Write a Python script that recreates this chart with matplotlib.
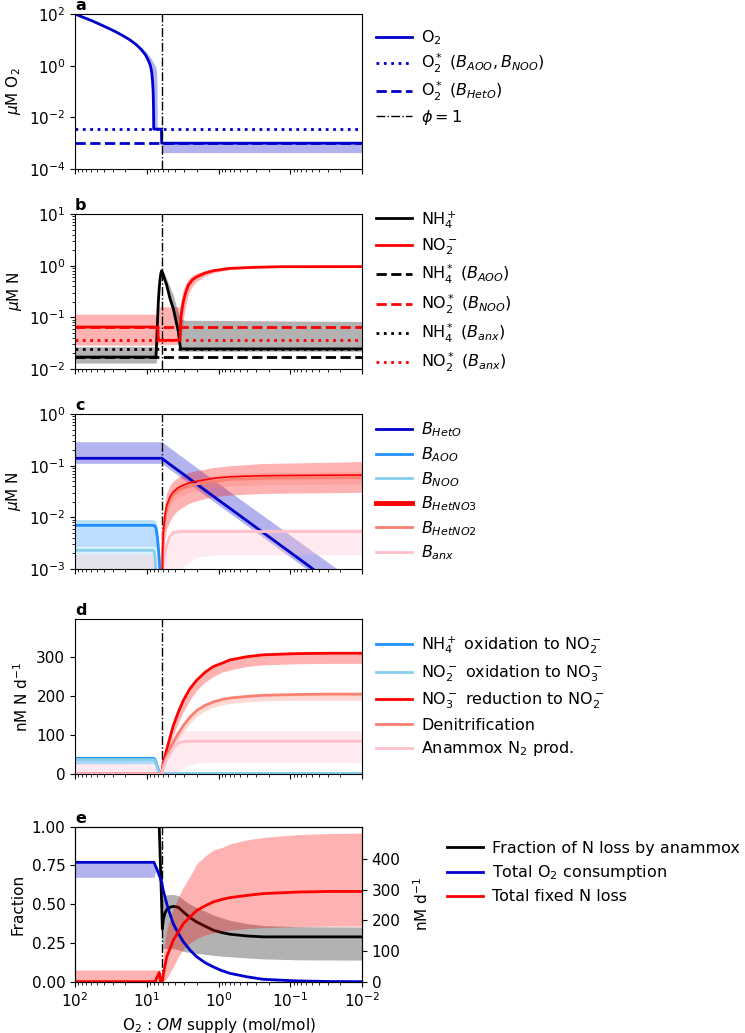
import matplotlib
matplotlib.use("Agg")
import matplotlib.pyplot as plt

plt.rcParams["font.size"] = 11
plt.rcParams["mathtext.fontset"] = "dejavusans"

# ----------------------------
# DATA
# ----------------------------
phi1 = 6.2  # O2:OM supply where phi = 1

# panel a: O2
x_o2 = [100, 80, 60, 45, 35, 27, 21, 17, 14, 12, 10.5, 9.5, 9.0, 8.7, 8.5, 8.3, 8.15, 8.05, 8.0,
        7.8, 7.5, 7.3, 7.2, 7.15, 6.25, 6.2, 0.01]
o2 = [100, 78, 57, 40, 29, 20.5, 14, 9.8, 6.5, 4.3, 2.7, 1.6, 1.1, 0.75, 0.5, 0.25, 0.1, 0.02, 0.0035,
      0.0035, 0.0035, 0.0035, 0.0035, 0.0035, 0.0035, 0.001, 0.001]
o2_lo = [100, 78, 57, 40, 29, 20.5, 14, 9.8, 6.5, 4.3, 2.7, 1.6, 1.1, 0.75, 0.5, 0.25, 0.1, 0.02, 0.0035,
         0.0035, 0.0035, 0.0035, 0.0035, 0.0035, 0.0035, 0.00043, 0.00043]
o2_hi = [100, 78, 57, 40, 29.5, 21.5, 15, 10.8, 7.5, 5.3, 3.7, 2.7, 2.2, 1.9, 1.7, 1.5, 1.4, 1.3, 1.25,
         1.1, 0.9, 0.6, 0.15, 0.0035, 0.0035, 0.001, 0.001]
o2_star_nit = 0.0035
o2_star_het = 0.001

# panel b: NH4+ and NO2-
x_nh4 = [100, 7.45, 7.3, 7.1, 6.9, 6.7, 6.5, 6.35, 6.2, 6.0, 5.7, 5.27, 4.74, 4.27, 3.9, 3.63, 3.45, 3.37, 3.0, 0.01]
nh4 = [0.017, 0.017, 0.03, 0.08, 0.2, 0.38, 0.58, 0.72, 0.8, 0.72, 0.58, 0.42, 0.23, 0.15, 0.083, 0.053, 0.03,
       0.0245, 0.0245, 0.0245]
nh4_lo = [0.013, 0.013, 0.015, 0.04, 0.12, 0.28, 0.45, 0.6, 0.7, 0.62, 0.48, 0.34, 0.18, 0.11, 0.06, 0.035, 0.022,
          0.022, 0.022, 0.022]
nh4_hi = [0.027, 0.027, 0.045, 0.12, 0.3, 0.5, 0.7, 0.8, 0.85, 0.82, 0.72, 0.55, 0.38, 0.27, 0.17, 0.12, 0.1,
          0.095, 0.088, 0.083]
x_no2 = [100, 7.0, 6.9, 3.45, 3.35, 3.26, 3.1, 2.86, 2.63, 2.32, 2.01, 1.54, 1.18, 0.69, 0.31, 0.14, 0.01]
no2 = [0.065, 0.065, 0.036, 0.036, 0.096, 0.129, 0.2, 0.305, 0.42, 0.53, 0.61, 0.72, 0.8, 0.89, 0.93, 0.955, 0.96]
no2_lo = [0.029, 0.029, 0.03, 0.03, 0.035, 0.05, 0.09, 0.17, 0.28, 0.4, 0.5, 0.63, 0.73, 0.84, 0.9, 0.93, 0.94]
no2_hi = [0.115, 0.115, 0.16, 0.16, 0.2, 0.25, 0.35, 0.45, 0.55, 0.65, 0.72, 0.8, 0.86, 0.93, 0.97, 0.99, 1.0]
nh4_star_aoo = 0.017
no2_star_noo = 0.065
nh4_star_anx = 0.024
no2_star_anx = 0.036

# panel c: biomasses
x_heto = [100, 6.2, 1.0, 0.1, 0.01]
b_heto = [0.139, 0.139, 0.0216, 0.0021, 0.0002]
b_heto_lo = [0.111, 0.111, 0.0173, 0.0017, 0.00017]
b_heto_hi = [0.29, 0.29, 0.045, 0.0045, 0.00045]
x_aoo = [100, 8.2, 7.7, 7.4, 7.1, 6.8, 6.5, 6.3, 0.01]
b_aoo = [0.007, 0.007, 0.0068, 0.006, 0.004, 0.002, 0.0008, 0.0001, 0.0001]
b_aoo_lo = [0.0028, 0.0028, 0.0027, 0.0024, 0.0016, 0.0008, 0.0003, 0.0001, 0.0001]
b_aoo_hi = [0.009, 0.009, 0.0088, 0.0082, 0.006, 0.0035, 0.0015, 0.0001, 0.0001]
x_noo = [100, 8.2, 7.9, 7.7, 7.5, 7.3, 7.0, 6.8, 0.01]
b_noo = [0.0023, 0.0023, 0.0022, 0.0017, 0.0011, 0.0006, 0.0002, 0.0001, 0.0001]
b_noo_lo = [0.0005, 0.0005, 0.0005, 0.0004, 0.0003, 0.0002, 0.0001, 0.0001, 0.0001]
b_noo_hi = [0.0029, 0.0029, 0.0029, 0.0026, 0.002, 0.0012, 0.0005, 0.0001, 0.0001]
x_het = [100, 6.2, 6.07, 6.0, 5.88, 5.57, 5.27, 4.74, 4.27, 3.63, 3.09, 2.5, 2.01, 1.18, 0.69, 0.237, 0.01]
b_hetno3 = [1e-4, 1e-4, 0.0008, 0.0025, 0.0053, 0.011, 0.017, 0.025, 0.031, 0.0375, 0.042, 0.047, 0.05, 0.057,
            0.061, 0.064, 0.066]
b_hetno3_lo = [1e-4, 1e-4, 0.0003, 0.001, 0.0018, 0.004, 0.006, 0.0085, 0.011, 0.014, 0.016, 0.019, 0.021, 0.025,
               0.027, 0.029, 0.0305]
b_hetno3_hi = [1e-4, 1e-4, 0.0015, 0.005, 0.011, 0.02, 0.03, 0.042, 0.05, 0.06, 0.068, 0.075, 0.08, 0.092, 0.1,
               0.11, 0.12]
b_hetno2 = [1e-4, 1e-4, 0.0007, 0.0022, 0.0048, 0.0098, 0.015, 0.022, 0.0275, 0.033, 0.037, 0.041, 0.044, 0.05,
            0.054, 0.057, 0.059]
b_hetno2_lo = [1e-4, 1e-4, 0.0005, 0.0017, 0.0036, 0.0074, 0.0113, 0.0165, 0.0206, 0.0248, 0.0278, 0.0308, 0.033,
               0.0375, 0.0405, 0.0428, 0.0443]
b_hetno2_hi = [1e-4, 1e-4, 0.0009, 0.0029, 0.0062, 0.0127, 0.0195, 0.0286, 0.0358, 0.0429, 0.0481, 0.0533, 0.0572,
               0.065, 0.0702, 0.0741, 0.0767]
x_anx = [100, 6.3, 6.2, 6.0, 5.6, 5.27, 4.8, 4.3, 3.8, 3.0, 2.0, 1.0, 0.01]
b_anx = [1e-4, 1e-4, 1e-4, 0.001, 0.002, 0.0029, 0.0042, 0.005, 0.0052, 0.0053, 0.0053, 0.0053, 0.0053]
b_anx_lo = [1e-4, 1e-4, 1e-4, 1e-4, 1e-4, 1e-4, 1e-4, 1e-4, 0.0006, 0.0012, 0.0017, 0.0019, 0.0019]
b_anx_hi = [0.0019, 0.0019, 0.0005, 0.0013, 0.0027, 0.0038, 0.0048, 0.0057, 0.006, 0.006, 0.006, 0.006, 0.006]

# panel d: rates (nM N/d)
x_nh4ox = [100, 8.0, 7.7, 7.4, 7.1, 6.8, 6.6, 0.01]
nh4ox = [40, 40, 38, 30, 18, 7, 0, 0]
nh4ox_lo = [27, 27, 25, 20, 12, 4, 0, 0]
no2ox = [37, 37, 35, 27, 15, 5, 0, 0]
no2ox_lo = [25, 25, 23, 18, 10, 3, 0, 0]
x_d = [100, 6.2, 5.88, 5.27, 4.74, 4.27, 3.63, 3.09, 2.5, 2.01, 1.54, 1.18, 0.9, 0.69, 0.405, 0.237, 0.081, 0.028, 0.01]
no3red = [0, 0, 29, 63, 94, 124, 159, 189, 219, 241, 261, 276, 284, 293, 301, 306, 309, 310, 310]
no3red_lo = [0, 0, 20, 45, 73, 101, 132, 160, 190, 215, 236, 250, 261, 267, 276, 280, 283, 284, 284]
denit = [0, 0, 22, 46, 64, 81, 104, 124, 146, 163, 176, 185, 191, 195, 199, 202, 204, 205, 205]
denit_lo = [0, 0, 15, 36, 54, 70, 90, 108, 130, 148, 162, 171, 177, 181, 185, 188, 189, 189, 189]
anammox = [0, 0, 15, 37, 52, 66, 79, 83, 84, 84, 84, 84, 84, 84, 84, 84, 84, 84, 84]
anammox_lo = [0, 0, 0, 0, 0, 0, 5, 15, 24, 28, 30, 30, 30, 30, 30, 30, 30, 30, 30]
anammox_hi = [27, 25, 45, 75, 95, 108, 111, 111, 111, 111, 111, 111, 111, 111, 111, 111, 111, 111, 111]

# panel e: fraction and totals
x_frac = [6.7, 6.4, 6.2, 6.07, 5.88, 5.6, 5.27, 4.74, 4.27, 3.63, 3.09, 2.5, 2.01, 1.54, 1.18, 0.9, 0.69, 0.405,
          0.237, 0.081, 0.01]
frac_amx = [1.0, 0.7, 0.5, 0.34, 0.4, 0.44, 0.465, 0.48, 0.486, 0.48, 0.45, 0.414, 0.385, 0.358, 0.332, 0.317,
            0.306, 0.295, 0.289, 0.289, 0.289]
frac_amx_lo = [1.0, 0.7, 0.5, 0.2, 0.215, 0.215, 0.214, 0.214, 0.214, 0.205, 0.195, 0.188, 0.182, 0.176, 0.17,
               0.165, 0.161, 0.153, 0.147, 0.141, 0.139]
frac_amx_hi = [1.0, 0.7, 0.5, 0.54, 0.55, 0.555, 0.56, 0.562, 0.563, 0.555, 0.53, 0.5, 0.478, 0.455, 0.43, 0.412,
               0.396, 0.375, 0.362, 0.355, 0.353]
x_o2cons = [100, 7.95, 7.26, 6.53, 6.2, 5.88, 5.27, 4.74, 4.27, 3.63, 3.09, 2.5, 2.01, 1.54, 1.18, 0.9, 0.69,
            0.405, 0.237, 0.081, 0.028, 0.01]
o2cons = [389, 389, 368, 340, 324, 297, 254, 220, 189, 157, 130, 103, 81, 62, 48, 36, 27, 16, 7.6, 2.5, 0.5, 0]
o2cons_lo = [340, 340, 368, 340, 324, 297, 254, 220, 189, 157, 130, 103, 81, 62, 48, 36, 27, 16, 7.6, 2.5, 0.5, 0]
x_nloss = [100, 7.67, 6.68, 6.4, 6.05, 5.88, 5.27, 4.74, 4.27, 3.63, 3.09, 2.5, 2.01, 1.54, 1.18, 0.9, 0.69,
           0.405, 0.237, 0.081, 0.028, 0.01]
nloss = [0, 0, 30, 0, 0, 25, 81, 108, 135, 162, 189, 211, 232, 247, 260, 268, 274, 281, 287, 292, 294, 294]
nloss_lo = [0, 0, 0, 0, 0, 0, 10, 30, 48, 81, 106, 126, 141, 152, 159, 164, 168, 173, 176, 179, 181, 181]
nloss_hi = [38, 38, 38, 0, 0, 91, 168, 207, 238, 275, 308, 343, 384, 409, 429, 437, 449, 462, 470, 479, 483, 484]

# ----------------------------
# FIGURE
# ----------------------------
fig = plt.figure(figsize=(7.45, 10.33), dpi=100)
left, width = 0.1007, 0.3852
bottoms = [0.8364, 0.6428, 0.4492, 0.2508, 0.0497]
axes = []
for b in bottoms:
    ax = fig.add_axes([left, b, width, 0.1500], sharex=axes[0] if axes else None)
    axes.append(ax)
ax_a, ax_b, ax_c, ax_d, ax_e = axes

BLUE = "mediumblue"
AL = 0.3
LEG = dict(frameon=False, fontsize=11.5, handlelength=2.25, handletextpad=0.55)


def band(ax, x, lo, hi, color):
    ax.fill_between(x, lo, hi, color=color, alpha=AL, lw=0)


# ---- a ----
band(ax_a, x_o2, o2_lo, o2_hi, BLUE)
ax_a.plot(x_o2, o2, color=BLUE, lw=2, label=r"O$_2$")
ax_a.axhline(o2_star_nit, color=BLUE, lw=2, ls=":", label=r"O$_2^*$ ($B_{AOO}, B_{NOO}$)")
ax_a.axhline(o2_star_het, color=BLUE, lw=2, ls="--", label=r"O$_2^*$ ($B_{HetO}$)")
ax_a.axvline(phi1, color="k", lw=1, ls="-.", label=r"$\phi = 1$")
ax_a.set_yscale("log")
ax_a.set_ylim(1e-4, 1e2)
ax_a.set_ylabel(r"$\mu$M O$_2$")
ax_a.legend(loc="upper left", bbox_to_anchor=(1.0, 1.0), labelspacing=0.3, **LEG)

# ---- b ----
band(ax_b, x_no2, no2_lo, no2_hi, "red")
band(ax_b, x_nh4, nh4_lo, nh4_hi, "k")
ax_b.axvline(phi1, color="k", lw=1, ls="-.")
ax_b.plot(x_nh4, nh4, color="k", lw=2, label=r"NH$_4^+$")
ax_b.plot(x_no2, no2, color="red", lw=2, label=r"NO$_2^-$")
ax_b.axhline(nh4_star_aoo, color="k", lw=2, ls="--", label=r"NH$_4^*$ ($B_{AOO}$)")
ax_b.axhline(no2_star_noo, color="red", lw=2, ls="--", label=r"NO$_2^*$ ($B_{NOO}$)")
ax_b.axhline(nh4_star_anx, color="k", lw=2, ls=":", label=r"NH$_4^*$ ($B_{anx}$)")
ax_b.axhline(no2_star_anx, color="red", lw=2, ls=":", label=r"NO$_2^*$ ($B_{anx}$)")
ax_b.set_yscale("log")
ax_b.set_ylim(1e-2, 1e1)
ax_b.set_ylabel(r"$\mu$M N")
ax_b.legend(loc="center left", bbox_to_anchor=(1.0, 0.5), labelspacing=0.38, **LEG)

# ---- c ----
band(ax_c, x_heto, b_heto_lo, b_heto_hi, BLUE)
band(ax_c, x_aoo, b_aoo_lo, b_aoo_hi, "dodgerblue")
band(ax_c, x_noo, b_noo_lo, b_noo_hi, "skyblue")
band(ax_c, x_het, b_hetno3_lo, b_hetno3_hi, "red")
band(ax_c, x_het, b_hetno2_lo, b_hetno2_hi, "salmon")
band(ax_c, x_anx, b_anx_lo, b_anx_hi, "pink")
ax_c.axvline(phi1, color="k", lw=1, ls="-.")
ax_c.plot(x_heto, b_heto, color=BLUE, lw=2, label=r"$B_{HetO}$")
ax_c.plot(x_aoo, b_aoo, color="dodgerblue", lw=2, label=r"$B_{AOO}$")
ax_c.plot(x_noo, b_noo, color="skyblue", lw=2, label=r"$B_{NOO}$")
ax_c.plot(x_het, b_hetno2, color="salmon", lw=2, zorder=2.1, label=r"$B_{HetNO2}$")
ax_c.plot(x_het, b_hetno3, color="red", lw=1.2, zorder=2.2, label=r"$B_{HetNO3}$")
ax_c.plot(x_anx, b_anx, color="pink", lw=2, label=r"$B_{anx}$")
ax_c.set_yscale("log")
ax_c.set_ylim(1e-3, 1e0)
ax_c.set_ylabel(r"$\mu$M N")
h, l = ax_c.get_legend_handles_labels()
order = [0, 1, 2, 4, 3, 5]
leg_c = ax_c.legend([h[i] for i in order], [l[i] for i in order], loc="center left",
                    bbox_to_anchor=(1.0, 0.5), labelspacing=0.37, **LEG)
leg_c.get_lines()[3].set_linewidth(3.5)

# ---- d ----
band(ax_d, x_nh4ox, nh4ox_lo, nh4ox, "dodgerblue")
band(ax_d, x_nh4ox, no2ox_lo, no2ox, "skyblue")
band(ax_d, x_d, no3red_lo, no3red, "red")
band(ax_d, x_d, denit_lo, denit, "salmon")
band(ax_d, x_d, anammox_lo, anammox_hi, "pink")
ax_d.axvline(phi1, color="k", lw=1, ls="-.")
ax_d.plot(x_nh4ox, nh4ox, color="dodgerblue", lw=2, label=r"NH$_4^+$ oxidation to NO$_2^-$")
ax_d.plot(x_nh4ox, no2ox, color="skyblue", lw=2, label=r"NO$_2^-$ oxidation to NO$_3^-$")
ax_d.plot(x_d, no3red, color="red", lw=2, label=r"NO$_3^-$ reduction to NO$_2^-$")
ax_d.plot(x_d, denit, color="salmon", lw=2, label="Denitrification")
ax_d.plot(x_d, anammox, color="pink", lw=2, label=r"Anammox N$_2$ prod.")
ax_d.set_ylim(0, 398)
ax_d.set_yticks([0, 100, 200, 300])
ax_d.set_ylabel(r"nM N d$^{-1}$")
ax_d.legend(loc="center left", bbox_to_anchor=(1.0, 0.5), labelspacing=0.42, **LEG)

# ---- e ----
band(ax_e, x_frac, frac_amx_lo, frac_amx_hi, "k")
ax_e.axvline(phi1, color="k", lw=1, ls="-.")
l1, = ax_e.plot(x_frac, frac_amx, color="k", lw=2, label="Fraction of N loss by anammox")
ax_e.set_ylim(0, 1)
ax_e.set_yticks([0, 0.25, 0.5, 0.75, 1.0])
ax_e.set_ylabel("Fraction")
ax_e2 = ax_e.twinx()
band(ax_e2, x_o2cons, o2cons_lo, o2cons, BLUE)
band(ax_e2, x_nloss, nloss_lo, nloss_hi, "red")
l2, = ax_e2.plot(x_o2cons, o2cons, color=BLUE, lw=2, label=r"Total O$_2$ consumption")
l3, = ax_e2.plot(x_nloss, nloss, color="red", lw=2, label="Total fixed N loss")
ax_e2.set_ylim(0, 505)
ax_e2.set_yticks([0, 100, 200, 300, 400])
ax_e2.set_ylabel(r"nM d$^{-1}$", labelpad=8)
ax_e2.legend(handles=[l1, l2, l3], loc="upper left", bbox_to_anchor=(1.247, 1.0), labelspacing=0.45, **LEG)

ax_e.set_xscale("log")
ax_e.set_xlim(100, 0.01)
ax_e.set_xlabel(r"O$_2$ : $OM$ supply (mol/mol)")
for ax in axes[:-1]:
    ax.tick_params(labelbottom=False)

for ax, lab in zip(axes, "abcde"):
    ax.text(0.0, 1.026, lab, transform=ax.transAxes, fontweight="bold",
            fontsize=11.5, va="baseline", ha="left")

fig.savefig("out.png", dpi=100)
